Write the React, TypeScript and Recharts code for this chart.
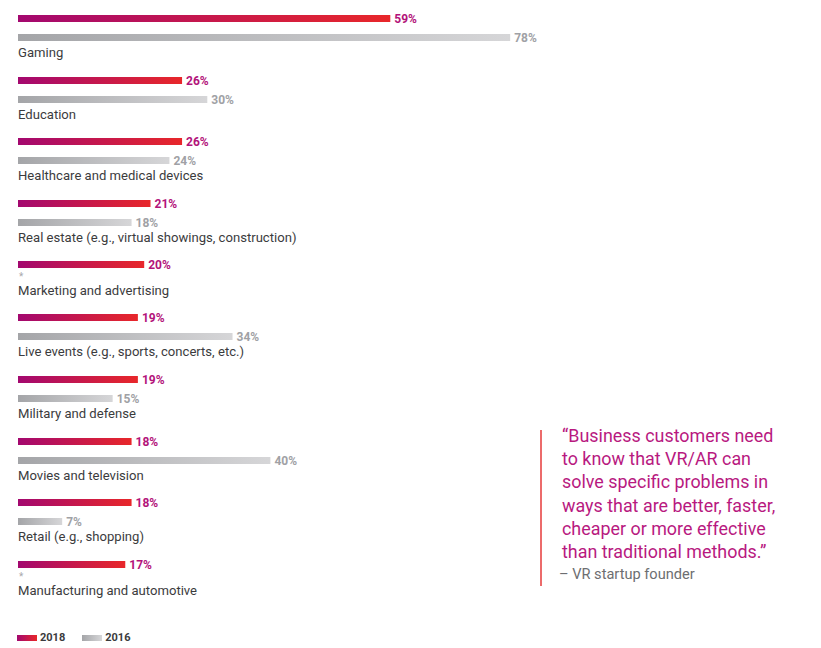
import React from 'react';
import { BarChart, Bar, XAxis, YAxis, LabelList } from 'recharts';

const categories = [
  'Gaming',
  'Education',
  'Healthcare and medical devices',
  'Real estate (e.g., virtual showings, construction)',
  'Marketing and advertising',
  'Live events (e.g., sports, concerts, etc.)',
  'Military and defense',
  'Movies and television',
  'Retail (e.g., shopping)',
  'Manufacturing and automotive',
];
const values2018: number[] = [59, 26, 26, 21, 20, 19, 19, 18, 18, 17];
const values2016: (number | null)[] = [78, 30, 24, 18, null, 34, 15, 40, 7, null];
const seriesNames = ['2018', '2016'];
const missingMark = '*';

const quoteLines = [
  '\u201CBusiness customers need',
  'to know that VR/AR can',
  'solve specific problems in',
  'ways that are better, faster,',
  'cheaper or more effective',
  'than traditional methods.\u201D',
];
const quoteAuthor = '\u2013 VR startup founder';

const FONT = 'Roboto, "DejaVu Sans", sans-serif';
const C18_FROM = '#a3086f';
const C18_TO = '#e8272a';
const C16_FROM = '#a4a5a8';
const C16_TO = '#d6d6d8';
const LABEL18 = '#b3137a';
const LABEL16 = '#a0a1a5';
const TEXT = '#3b3b3d';
const QUOTE = '#b8197f';

const BAR = 7;
const GAP = 12;
const PLOT_H = 28; // band slightly taller than the two bars + gap
const PAD_T = 8;
const FULL_H = 61.6;
const SHORT_H = 53;
const TOP0 = 6 - PAD_T;
const LEFT = 10;
const PLOT_W = 631;
const CHART_W = 720;

const makeNameLabel = (has16: boolean) => (props: any) => {
  const { x, y, value } = props;
  return (
    <g>
      {!has16 && (
        <text x={x + 1} y={y + 18.8} fill="#a9a9ab" fontSize={10} fontFamily={FONT}>
          {missingMark}
        </text>
      )}
      <text x={x} y={has16 ? y + 41.5 : y + 33.5} fill={TEXT} fontSize={13.1} fontFamily={FONT}>
        {value}
      </text>
    </g>
  );
};

const Block = ({ index }: { index: number }) => {
  const v16 = values2016[index];
  const has16 = v16 != null;
  const h = (has16 ? 62 : 53) + PAD_T;
  const data = [{ name: categories[index], v2018: values2018[index], v2016: v16 }];
  const id18 = `grad18-${index}`;
  const id16 = `grad16-${index}`;
  return (
    <BarChart
      width={CHART_W}
      height={h}
      data={data}
      layout="vertical"
      margin={{ top: PAD_T, right: CHART_W - LEFT - PLOT_W, bottom: h - PLOT_H - PAD_T, left: LEFT }}
      barSize={BAR}
      barGap={GAP}
    >
      <defs>
        <linearGradient id={id18} x1="0" y1="0" x2="1" y2="0">
          <stop offset="0%" stopColor={C18_FROM} />
          <stop offset="100%" stopColor={C18_TO} />
        </linearGradient>
        <linearGradient id={id16} x1="0" y1="0" x2="1" y2="0">
          <stop offset="0%" stopColor={C16_FROM} />
          <stop offset="100%" stopColor={C16_TO} />
        </linearGradient>
      </defs>
      <XAxis type="number" domain={[0, 100]} hide />
      <YAxis type="category" dataKey="name" hide />
      <Bar dataKey="v2018" name={seriesNames[0]} fill={`url(#${id18})`} isAnimationActive={false}>
        <LabelList
          dataKey="v2018"
          position="right"
          offset={4}
          formatter={(v: any) => `${v}%`}
          fill={LABEL18}
          fontSize={12}
          fontWeight={700}
          fontFamily={FONT}
        />
        <LabelList dataKey="name" content={makeNameLabel(has16)} />
      </Bar>
      <Bar dataKey="v2016" name={seriesNames[1]} fill={`url(#${id16})`} isAnimationActive={false}>
        <LabelList
          dataKey="v2016"
          position="right"
          offset={4}
          formatter={(v: any) => (v == null ? '' : `${v}%`)}
          fill={LABEL16}
          fontSize={12}
          fontWeight={700}
          fontFamily={FONT}
        />
      </Bar>
    </BarChart>
  );
};

export default function App() {
  let acc = TOP0;
  const tops = categories.map((_, i) => {
    const t = acc;
    acc += values2016[i] != null ? FULL_H : SHORT_H;
    return Math.round(t);
  });
  return (
    <div style={{ position: 'relative', width: 805, height: 640, fontFamily: FONT }}>
      {categories.map((c, i) => (
        <div key={c} style={{ position: 'absolute', left: 0, top: tops[i] }}>
          <Block index={i} />
        </div>
      ))}
      <div
        style={{
          position: 'absolute',
          left: 532,
          top: 422,
          width: 2,
          height: 156,
          background: '#ec6b6b',
        }}
      />
      <div
        style={{
          position: 'absolute',
          left: 554,
          top: 416,
          color: QUOTE,
          fontSize: 17.9,
          lineHeight: '23.2px',
          fontFamily: FONT,
          whiteSpace: 'nowrap',
        }}
      >
        {quoteLines.map((l) => (
          <div key={l}>{l}</div>
        ))}
        <div style={{ color: '#6d6e71', fontSize: 14.6, marginLeft: -3, lineHeight: '20px', marginTop: 1 }}>
          {quoteAuthor}
        </div>
      </div>
      <div
        style={{
          position: 'absolute',
          left: 9,
          top: 623,
          display: 'flex',
          alignItems: 'center',
          fontSize: 11,
          fontWeight: 700,
          color: TEXT,
          fontFamily: FONT,
        }}
      >
        {seriesNames.map((s, i) => (
          <div key={s} style={{ display: 'flex', alignItems: 'center', marginRight: 17 }}>
            <div
              style={{
                width: 20,
                height: 6,
                marginRight: 3,
                background: `linear-gradient(to right, ${i === 0 ? C18_FROM : C16_FROM}, ${i === 0 ? C18_TO : C16_TO})`,
              }}
            />
            <span>{s}</span>
          </div>
        ))}
      </div>
    </div>
  );
}
